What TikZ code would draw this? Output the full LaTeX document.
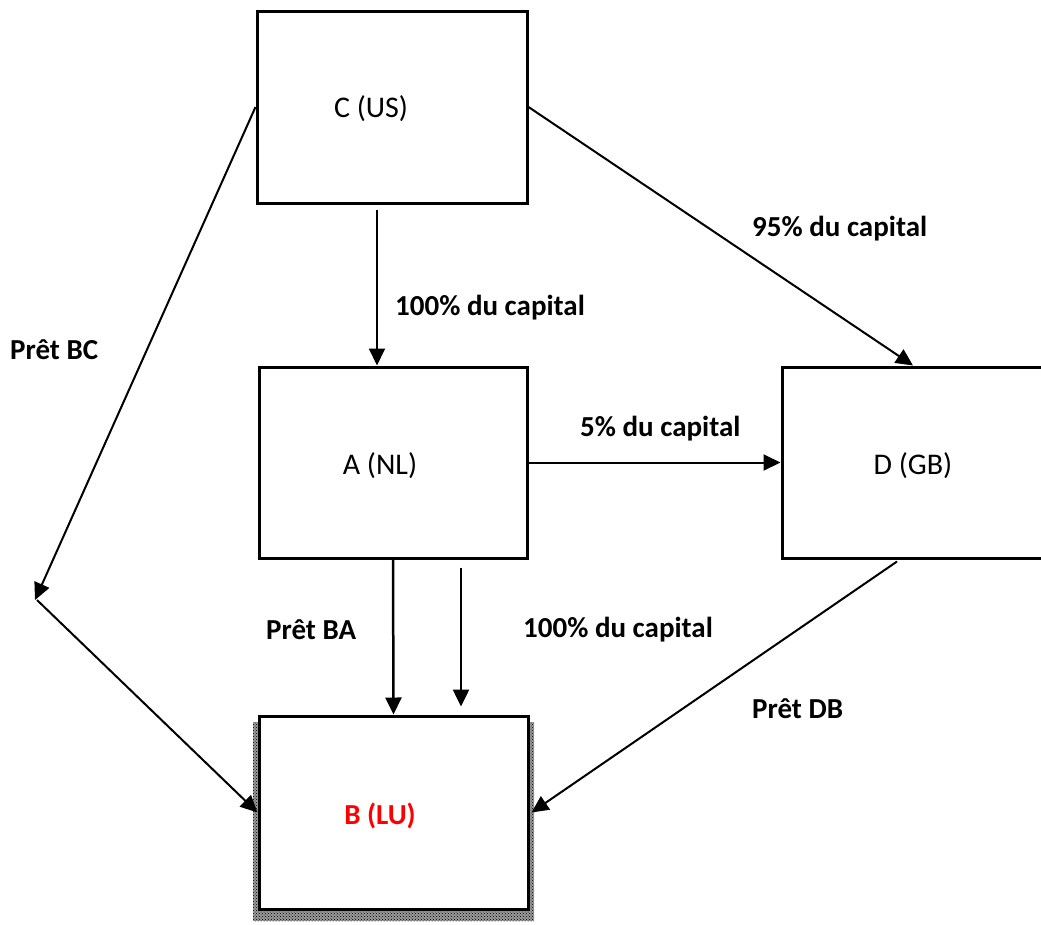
\documentclass[tikz,border=0pt]{standalone}
\usepackage{fontspec}
\setmainfont{Carlito}
\usetikzlibrary{arrows.meta,patterns,calc}
\begin{document}
\begin{tikzpicture}[x=1pt,y=-1pt,
  box/.style={draw=black,line width=3pt,fill=white,inner sep=0pt},
  arr/.style={line width=2pt,-{Triangle[length=17pt,width=16pt]}},
  lbl/.style={font=\fontsize{29}{32}\selectfont\bfseries,anchor=west,inner sep=0pt},
  nt/.style={font=\fontsize{30}{33}\selectfont,inner sep=0pt}]
\useasboundingbox (0,0) rectangle (1041,924);
% shadow of B
\fill[black!40] (253,722) rectangle (534,921);
\fill[pattern=crosshatch dots,pattern color=black] (253,722) rectangle (534,921);
\node[box,minimum width=270pt,minimum height=192pt] (C) at (392,107) {};
\node[box,minimum width=268pt,minimum height=191pt] (A) at (393,462.5) {};
\node[box,minimum width=262pt,minimum height=191pt] (D) at (913,462.5) {};
\node[box,minimum width=269pt,minimum height=193pt] (B) at (393.5,812.5) {};
\node[nt] (Ct) at (371,109) {C (US)};
\node[nt] (At) at (380,466) {A (NL)};
\node[nt] (Dt) at (913,466) {D (GB)};
\node[nt,font=\fontsize{29}{32}\selectfont\bfseries,text=red] (Bt) at (380,816) {B (LU)};
\coordinate (bc) at (35,600);
% connectors
\draw[arr] ([xshift=-15pt,yshift=-5pt]C.south) -- ([xshift=-16pt]A.north);
\draw[arr] (C.east) -- (D.north);
\draw[arr] (C.west) -- (bc);
\draw[arr] ([xshift=2pt]bc) -- (B.west);
\draw[arr] (A.east) -- (D.west);
\draw[arr,line width=2.5pt] (A.south) -- (B.north);
\draw[arr,line width=2.5pt] ([xshift=68pt,yshift=-8pt]A.south) -- ([xshift=67.5pt,yshift=8pt]B.north);
\draw[arr] ([xshift=-16pt,yshift=-2pt]D.south) -- ([xshift=2pt]B.east);
% labels
\node[lbl] (l1) at (395,308) {100\% du capital};
\node[lbl] (l2) at (752,229) {95\% du capital};
\node[lbl] (l3) at (10,350) {Prêt BC};
\node[lbl] (l4) at (580,429) {5\% du capital};
\node[lbl] (l5) at (266,630) {Prêt BA};
\node[lbl] (l6) at (523,630) {100\% du capital};
\node[lbl] (l7) at (752,709) {Prêt DB};
\end{tikzpicture}
\end{document}
